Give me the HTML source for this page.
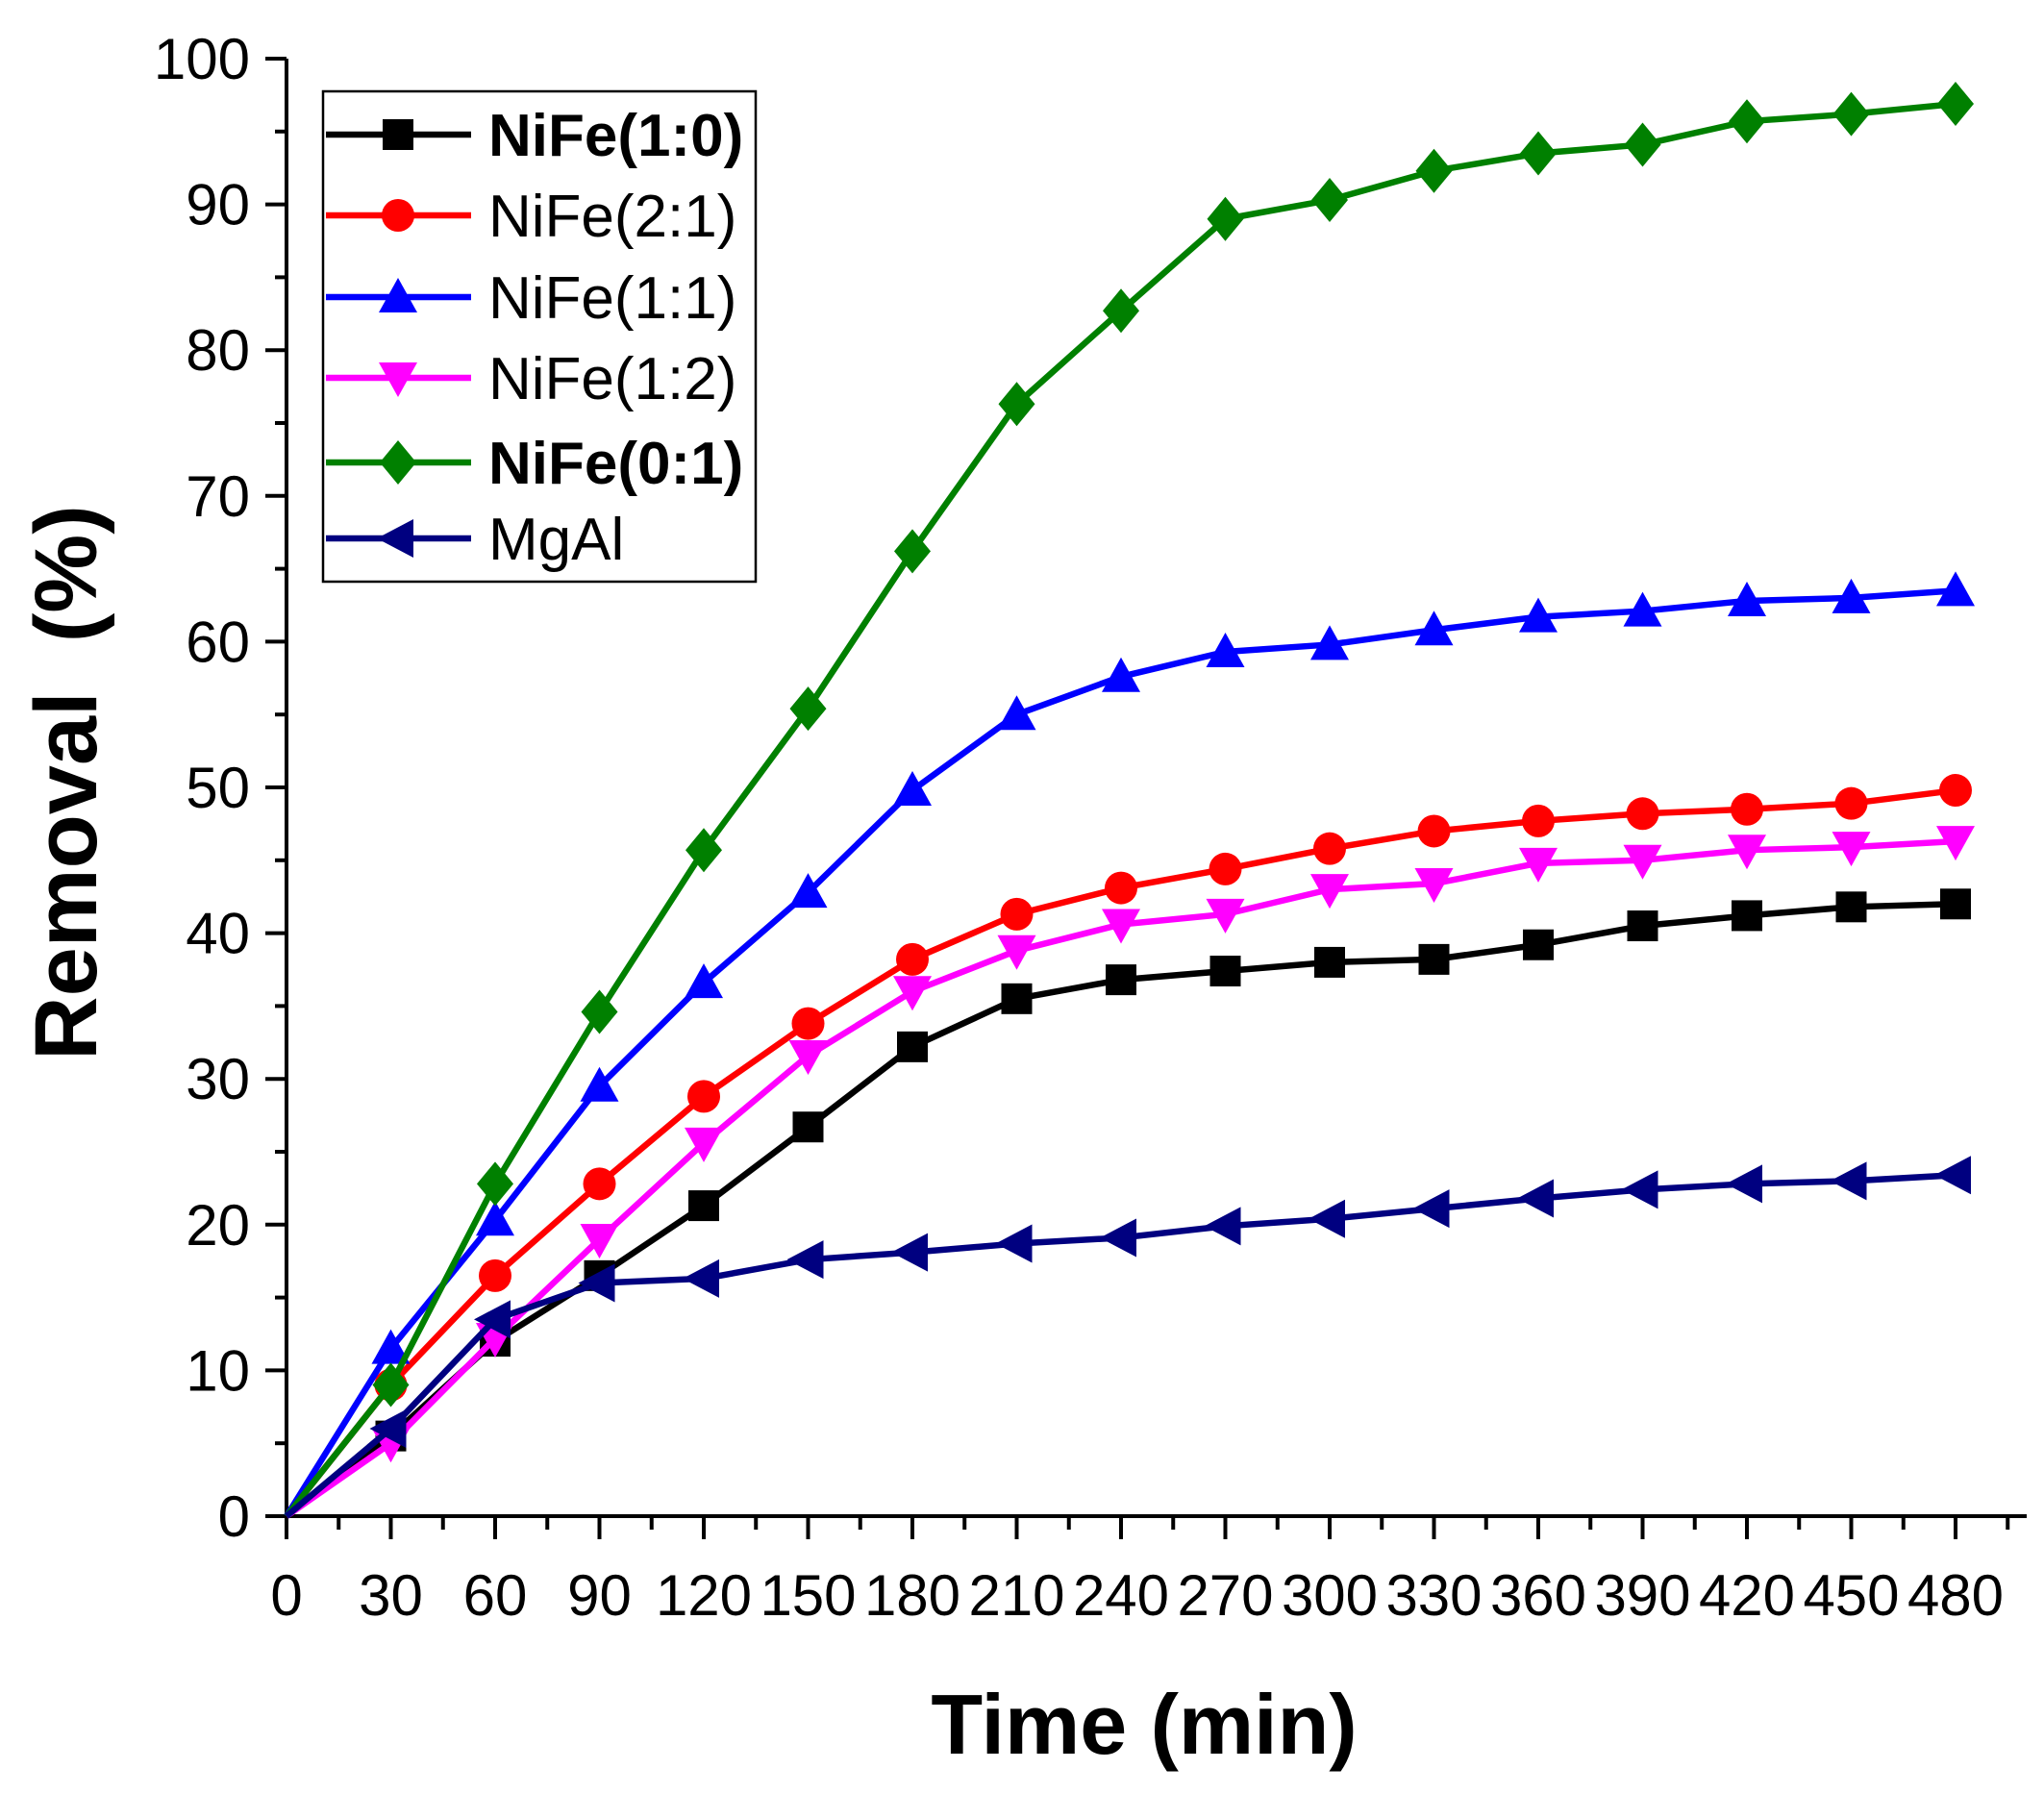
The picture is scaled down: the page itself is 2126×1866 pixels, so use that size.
<!DOCTYPE html>
<html><head><meta charset="utf-8"><style>html,body{margin:0;padding:0;background:#fff}svg{display:block}</style></head>
<body>
<svg id="s" width="2126" height="1866" xmlns="http://www.w3.org/2000/svg" font-family="Liberation Sans, Arial, sans-serif">
<rect width="2126" height="1866" fill="#fff"/>
<g id="ax" stroke="#000" stroke-width="4" fill="none"></g>
<g id="tl" font-size="60" fill="#000"></g>
<g id="series"></g>
<rect x="336" y="95" width="450" height="510" fill="#fff" stroke="#000" stroke-width="2.5"/>
<g id="leg"></g>
<text x="1190" y="1824" font-size="88" font-weight="bold" text-anchor="middle">Time (min)</text>
<text transform="translate(100,814) rotate(-90)" font-size="92" font-weight="bold" text-anchor="middle" xml:space="preserve">Removal  (%)</text>
</svg>
<script>
const NS="http://www.w3.org/2000/svg";
const x0=298,dx=108.5/30,y0=1577,dy=15.16;
const X=t=>x0+t*dx,Y=v=>y0-v*dy;
function el(p,tag,a,txt){const e=document.createElementNS(NS,tag);for(const k in a)e.setAttribute(k,a[k]);if(txt!=null)e.textContent=txt;p.appendChild(e);return e;}
const ax=document.getElementById('ax'),tl=document.getElementById('tl');
el(ax,'path',{d:`M${x0} ${Y(100)} V${y0} H2108`});
for(let t=0;t<=495;t+=15){const maj=t%30==0;el(ax,'path',{d:`M${X(t)} ${y0} v${maj?24:14}`});
 if(maj&&t<=480)el(tl,'text',{x:X(t),y:1680,'text-anchor':'middle'},t);}
for(let v=0;v<=100;v+=5){const maj=v%10==0;el(ax,'path',{d:`M${x0} ${Y(v)} h${maj?-22:-12}`});
 if(maj)el(tl,'text',{x:260,y:Y(v)+21,'text-anchor':'end'},v);}
const S=[
['NiFe(1:0)','#000','sq',[0,5.5,12,16.5,21.3,26.7,32.2,35.5,36.8,37.4,38,38.2,39.2,40.5,41.2,41.8,42],true],
['NiFe(2:1)','#f00','ci',[0,9,16.5,22.8,28.8,33.8,38.2,41.3,43.1,44.4,45.8,47,47.7,48.2,48.5,48.9,49.8],false],
['NiFe(1:1)','#00f','up',[0,11.5,20.3,29.5,36.6,42.8,49.8,55,57.6,59.3,59.8,60.8,61.7,62.1,62.8,63,63.5],false],
['NiFe(1:2)','#f0f','dn',[0,5,12.2,19,25.6,31.6,36,38.8,40.6,41.3,43,43.4,44.8,45,45.7,45.9,46.3],false],
['NiFe(0:1)','#008000','di',[0,9,22.8,34.6,45.7,55.4,66.2,76.3,82.7,89,90.3,92.3,93.5,94.1,95.7,96.2,96.9],true],
['MgAl','#000080','lt',[0,6,13.5,16,16.3,17.6,18.1,18.7,19.1,19.9,20.4,21.1,21.8,22.4,22.8,23,23.4],false]];
function mk(g,type,x,y,c){const r=16;let d;
 if(type=='sq')return el(g,'rect',{x:x-r,y:y-r,width:2*r,height:2*r,fill:c});
 if(type=='ci')return el(g,'circle',{cx:x,cy:y,r:r+1,fill:c});
 if(type=='up')d=`M${x} ${y-r-4}L${x+r+4} ${y+r}L${x-r-4} ${y+r}Z`;
 if(type=='dn')d=`M${x} ${y+r+4}L${x+r+4} ${y-r}L${x-r-4} ${y-r}Z`;
 if(type=='di')d=`M${x} ${y-r-7}L${x+r+3} ${y}L${x} ${y+r+7}L${x-r-3} ${y}Z`;
 if(type=='lt')d=`M${x-r-6} ${y}L${x+r} ${y-r-4}L${x+r} ${y+r+4}Z`;
 el(g,'path',{d,fill:c});}
const sg=document.getElementById('series'),lg=document.getElementById('leg');
const ly=[140,224,309,393,481,560];
S.forEach((s,i)=>{const g=el(sg,'g',{});
 el(g,'polyline',{points:s[3].map((v,k)=>X(k*30)+','+Y(v)).join(' '),fill:'none',stroke:s[1],'stroke-width':6.5,'stroke-linejoin':'round'});
 s[3].forEach((v,k)=>{if(k>0)mk(g,s[2],X(k*30),Y(v),s[1]);});
 el(lg,'path',{d:`M339 ${ly[i]} H490`,stroke:s[1],'stroke-width':6.5});
 mk(lg,s[2],414,ly[i],s[1]);
 el(lg,'text',{x:508,y:ly[i]+22,'font-size':62,'font-weight':s[4]?'bold':'normal'},s[0]);});
</script>
</body></html>
